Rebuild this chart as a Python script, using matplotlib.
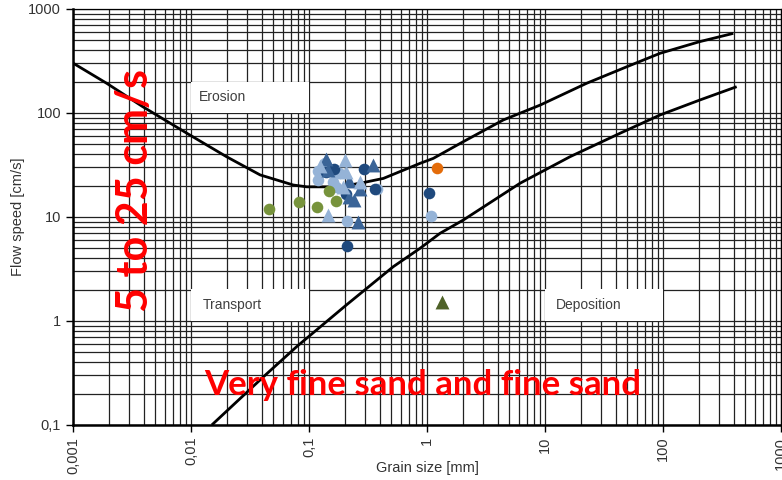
import matplotlib
matplotlib.use("Agg")
import matplotlib.pyplot as plt
from matplotlib.patches import Rectangle
from matplotlib.ticker import LogLocator, FixedLocator

# Hjulström-type curves (grain size in mm, flow speed in cm/s)
erosion_x = [0.001, 0.00193, 0.0039, 0.0092, 0.02, 0.0385, 0.0736, 0.096, 0.183,
             0.287, 0.427, 0.873, 1.13, 2.03, 4.43, 9.07, 22.5, 49.2, 94.4, 204, 394]
erosion_y = [302, 193, 115, 64, 38, 25.4, 20.3, 19.5, 19.5,
             21.4, 23.5, 32.8, 36.6, 53, 85.7, 119, 193, 278, 375, 485, 583]

deposition_x = [0.015, 0.041, 0.0785, 0.208, 0.518, 0.873, 1.29, 2.03, 6.14,
                16.3, 43.2, 94.4, 204, 421]
deposition_y = [0.1, 0.29, 0.566, 1.43, 3.33, 5.0, 6.97, 9.35, 21.1,
                38, 63.8, 95.7, 133, 179]

# Sample measurements
light_circle_x = [0.12, 0.12, 0.16, 0.17, 0.136, 0.18, 0.38, 0.21, 1.08]
light_circle_y = [27.5, 22.7, 21.8, 19.5, 33, 26.5, 18.5, 9.2, 10.2]

dark_circle_x = [0.163, 0.29, 0.366, 1.03, 0.21, 0.206, 0.139]
dark_circle_y = [28.7, 28.7, 18.5, 16.9, 5.3, 16.7, 26.8]

mid_triangle_x = [0.139, 0.35, 0.22, 0.27, 0.24, 0.26, 0.145, 0.22]
mid_triangle_y = [36, 31.5, 22.2, 18.7, 14.6, 9.0, 28.5, 15.5]

light_triangle_x = [0.2, 0.206, 0.145, 0.27, 0.195, 0.125]
light_triangle_y = [35, 27, 10.5, 21.7, 19.5, 31]

green_circle_x = [0.0461, 0.0827, 0.1176, 0.1477, 0.168]
green_circle_y = [11.9, 14.0, 12.6, 17.8, 14.4]

orange_x = [1.21]
orange_y = [29.4]

green_triangle_x = [1.33]
green_triangle_y = [1.53]

x_ticks = [0.001, 0.01, 0.1, 1, 10, 100, 1000]
x_tick_labels = ["0,001", "0,01", "0,1", "1", "10", "100", "1000"]
y_ticks = [0.1, 1, 10, 100, 1000]
y_tick_labels = ["0,1", "1", "10", "100", "1000"]

fig = plt.figure(figsize=(7.82, 4.8), dpi=100)
ax = fig.add_axes([73 / 782, 55 / 480, 708 / 782, 416 / 480])
ax.set_xscale("log")
ax.set_yscale("log")
ax.set_xlim(0.001, 1000)
ax.set_ylim(0.1, 1000)

# Dense black log grid
ax.xaxis.set_minor_locator(LogLocator(base=10, subs=range(2, 10), numticks=20))
ax.yaxis.set_minor_locator(LogLocator(base=10, subs=range(2, 10), numticks=20))
ax.grid(True, which="both", color="#222222", linewidth=0.9, zorder=0)
ax.set_axisbelow(True)
ax.tick_params(which="minor", length=0)
ax.tick_params(which="major", length=5, width=1, color="black",
               labelsize=10.5, labelcolor="#333333")
ax.xaxis.set_major_locator(FixedLocator(x_ticks))
ax.yaxis.set_major_locator(FixedLocator(y_ticks))
ax.set_xticklabels(x_tick_labels, rotation=90, fontfamily="Liberation Sans")
ax.set_yticklabels(y_tick_labels, fontfamily="Liberation Sans")

for side in ["left", "bottom"]:
    ax.spines[side].set_linewidth(1.8)
    ax.spines[side].set_color("black")
for side in ["top", "right"]:
    ax.spines[side].set_linewidth(0.9)

# Region labels on white panels
panels = [
    ("Erosion", 0.01, 0.1, 100, 199, 0.0117),
    ("Transport", 0.01, 0.1, 1, 2.03, 0.0126),
    ("Deposition", 10, 100, 1, 2.03, 12.4),
]
for label, x0, x1, y0, y1, tx in panels:
    ax.add_patch(Rectangle((x0, y0), x1 - x0, y1 - y0, facecolor="white",
                           edgecolor="none", zorder=1))
    ax.text(tx, (y0 * y1) ** 0.5, label, fontsize=10, color="#404040",
            fontfamily="Liberation Sans", va="center", ha="left", zorder=2)

ax.plot(erosion_x, erosion_y, color="black", linewidth=2.0, zorder=3,
        solid_capstyle="butt")
ax.plot(deposition_x, deposition_y, color="black", linewidth=2.0, zorder=3,
        solid_capstyle="butt")

ms = 70
mt = 100
ax.scatter(light_circle_x, light_circle_y, s=ms, marker="o", color="#95B3D7",
           zorder=4, linewidths=0)
ax.scatter(dark_circle_x, dark_circle_y, s=ms, marker="o", color="#1F497D",
           zorder=4, linewidths=0)
ax.scatter(mid_triangle_x, mid_triangle_y, s=mt, marker="^", color="#3A6497",
           zorder=4, linewidths=0)
ax.scatter(light_triangle_x, light_triangle_y, s=mt, marker="^", color="#95B3D7",
           zorder=4, linewidths=0)
ax.scatter(green_circle_x, green_circle_y, s=ms, marker="o", color="#77933C",
           zorder=4, linewidths=0)
ax.scatter(orange_x, orange_y, s=ms, marker="o", color="#E46C0A",
           zorder=4, linewidths=0)
ax.scatter(green_triangle_x, green_triangle_y, s=mt, marker="^", color="#4F6228",
           zorder=4, linewidths=0)

ax.set_xlabel("Grain size [mm]", fontsize=10.5, color="#333333",
              fontfamily="Liberation Sans", va="center")
ax.xaxis.set_label_coords(0.5, -43 / 416)
ax.set_ylabel("Flow speed [cm/s]", fontsize=10.5, color="#333333",
              fontfamily="Liberation Sans", va="center")
ax.yaxis.set_label_coords(-55 / 708, 0.5)

# Highlighted annotations
fig.text(135 / 782, 1 - 191 / 480, "5 to 25 cm/s", rotation=90, color="red",
         fontsize=31, fontweight="bold", fontfamily="Lato",
         ha="center", va="center", zorder=5)
fig.text(423 / 782, 1 - 385 / 480, "Very fine sand and fine sand", color="red",
         fontsize=25, fontweight="bold", fontfamily="Lato",
         ha="center", va="center", zorder=5)

fig.savefig("out.png", dpi=100)
